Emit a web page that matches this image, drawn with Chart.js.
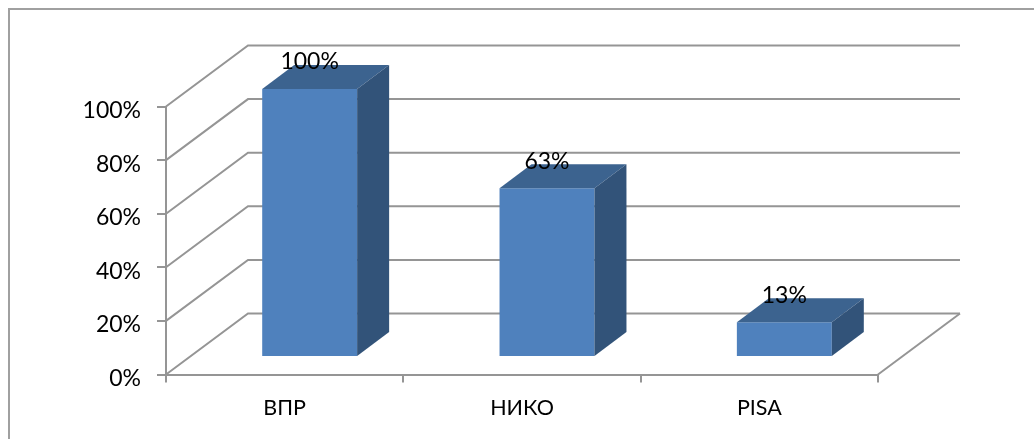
<!DOCTYPE html>
<html>
<head>
<meta charset="utf-8">
<style>
  html, body { margin: 0; padding: 0; background: #fff; overflow: hidden; }
  canvas { display: block; }
</style>
<script src="https://cdn.jsdelivr.net/npm/chart.js@4/dist/chart.umd.min.js"></script>
</head>
<body>
<canvas id="chart" width="1034" height="439"></canvas>
<script>
const categories = ['ВПР', 'НИКО', 'PISA'];
const values = [100, 63, 13];
const valueLabels = ['100%', '63%', '13%'];

const FONT = 'Lato, "Open Sans", sans-serif';
const LINE = '#959595';

// depth of the fake 3D box: floor/wall offset and bar offset
const wall = { dx: 82, dy: -61 };
const barShift = { dx: 25, dy: -17.5 };
const barDepth = { dx: 32, dy: -24 };

const box3d = {
    id: 'box3d',
    beforeDraw(chart) {
        const c = chart.ctx;
        // frame of the picture, only top and left are in view
        c.save();
        c.strokeStyle = '#a0a0a0';
        c.lineWidth = 2;
        c.beginPath();
        c.moveTo(9, 439);
        c.lineTo(9, 9);
        c.lineTo(1034, 9);
        c.stroke();
        c.restore();
    },
    beforeDatasetsDraw(chart) {
        const c = chart.ctx, y = chart.scales.y, area = chart.chartArea;
        c.save();
        c.strokeStyle = LINE;
        c.lineWidth = 2;
        y.ticks.forEach(t => {
            const py = y.getPixelForValue(t.value);
            c.beginPath();
            c.moveTo(area.left, py);
            c.lineTo(area.left + wall.dx, py + wall.dy);
            c.lineTo(area.right + wall.dx, py + wall.dy);
            c.stroke();
        });
        const py0 = y.getPixelForValue(0);
        c.beginPath();
        c.moveTo(area.right, py0);
        c.lineTo(area.right + wall.dx, py0 + wall.dy);
        c.stroke();
        c.restore();
        // bars sit a bit inside the floor
        c.save();
        c.translate(barShift.dx, barShift.dy);
    },
    afterDatasetsDraw(chart) {
        const c = chart.ctx;
        c.restore();
        const bars = chart.getDatasetMeta(0).data;
        bars.forEach(bar => {
            const half = bar.width / 2;
            const l = bar.x - half + barShift.dx, r = bar.x + half + barShift.dx;
            const t = bar.y + barShift.dy, b = bar.base + barShift.dy;
            // top face
            c.fillStyle = '#3c638f';
            c.beginPath();
            c.moveTo(l, t);
            c.lineTo(l + barDepth.dx, t + barDepth.dy);
            c.lineTo(r + barDepth.dx, t + barDepth.dy);
            c.lineTo(r, t);
            c.closePath();
            c.fill();
            // side face
            c.fillStyle = '#325379';
            c.beginPath();
            c.moveTo(r, t);
            c.lineTo(r + barDepth.dx, t + barDepth.dy);
            c.lineTo(r + barDepth.dx, b + barDepth.dy);
            c.lineTo(r, b);
            c.closePath();
            c.fill();
        });
        c.save();
        c.fillStyle = '#000';
        c.font = '23px ' + FONT;
        c.textAlign = 'center';
        c.textBaseline = 'middle';
        bars.forEach((bar, i) => {
            c.fillText(valueLabels[i], bar.x + barShift.dx, bar.y + barShift.dy - 27);
        });
        c.restore();
    }
};

new Chart(document.getElementById('chart'), {
    type: 'bar',
    data: {
        labels: categories,
        datasets: [{
            data: values,
            backgroundColor: '#4f81bd',
            borderWidth: 0,
            barPercentage: 0.4,
            categoryPercentage: 1
        }]
    },
    options: {
        responsive: false,
        animation: false,
        layout: { padding: { left: 0, top: 106.5, right: 156, bottom: 0 } },
        plugins: { legend: { display: false }, tooltip: { enabled: false } },
        scales: {
            x: {
                afterFit: s => { s.height = 64.5; },
                grid: { drawOnChartArea: false, color: LINE, tickLength: 8, lineWidth: 2 },
                border: { color: LINE, width: 2 },
                ticks: { color: '#000', padding: 13, font: { family: FONT, size: 21.5 } }
            },
            y: {
                min: 0, max: 100,
                afterFit: s => { s.width = 166; },
                grid: { drawOnChartArea: false, color: LINE, tickLength: 9, lineWidth: 2 },
                border: { color: LINE, width: 2 },
                ticks: {
                    stepSize: 20, color: '#000', padding: 16,
                    // small line height with an empty first line nudges the label down
                    font: { family: FONT, size: 23, lineHeight: '8px' },
                    callback: v => ['', v + '%']
                }
            }
        }
    },
    plugins: [box3d]
});
</script>
</body>
</html>
